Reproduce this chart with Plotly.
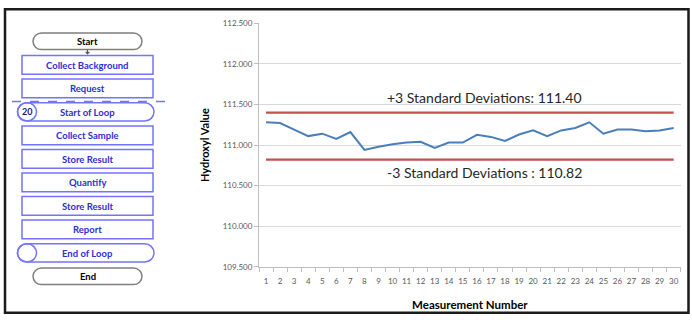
import plotly.graph_objects as go

# ---------------- data ----------------
measurement = list(range(1, 31))
hydroxyl = [111.28, 111.27, 111.19, 111.11, 111.14, 111.075, 111.16, 110.94, 110.98, 111.01,
            111.03, 111.04, 110.965, 111.03, 111.03, 111.125, 111.10, 111.05, 111.13, 111.18,
            111.11, 111.18, 111.21, 111.28, 111.14, 111.19, 111.19, 111.17, 111.18, 111.21]
upper_limit = 111.40
lower_limit = 110.82
y_ticks = [109.5, 110.0, 110.5, 111.0, 111.5, 112.0, 112.5]

flow_steps = ["Start", "Collect Background", "Request", "Start of Loop", "Collect Sample",
              "Store Result", "Quantify", "Store Result", "Report", "End of Loop", "End"]
flow_kinds = ["term", "box", "box", "loop", "box", "box", "box", "box", "box", "loop", "term"]
loop_count = "20"

# ---------------- layout constants ----------------
W, H = 692, 324
X0, X1 = 259, 680.7          # plot area (px)
Y0, Y1 = 18.7, 270.3
FONT = "Lato"


def px(x):
    return x / W


def py(y):
    return 1 - y / H


fig = go.Figure()

blue_line = "#4a7ebb"
red_line = "#c0504d"

fig.add_trace(go.Scatter(x=[measurement[0], measurement[-1]], y=[upper_limit, upper_limit],
                         mode="lines", line=dict(color=red_line, width=2.2), hoverinfo="skip"))
fig.add_trace(go.Scatter(x=[measurement[0], measurement[-1]], y=[lower_limit, lower_limit],
                         mode="lines", line=dict(color=red_line, width=2.2), hoverinfo="skip"))
fig.add_trace(go.Scatter(x=measurement, y=hydroxyl, mode="lines",
                         line=dict(color=blue_line, width=2)))

fig.update_layout(
    width=W, height=H, margin=dict(l=0, r=0, t=0, b=0),
    paper_bgcolor="white", plot_bgcolor="white", showlegend=False,
    font=dict(family=FONT),
    xaxis=dict(domain=[px(X0), px(X1)], range=[0.5, 30.5], tickmode="array",
               tickvals=measurement, ticktext=[str(m) for m in measurement],
               showgrid=False, zeroline=False, showline=True, linecolor="#bfbfbf", linewidth=1,
               ticks="", ticklabelstandoff=6, tickfont=dict(size=8, color="#595959", family=FONT),
               minor=dict(tick0=0.5, dtick=1, ticks="outside", ticklen=4, tickcolor="#bfbfbf"),
               title=dict(text="<b>Measurement Number</b>", font=dict(size=11.5, color="black"),
                          standoff=16),
               fixedrange=True),
    yaxis=dict(domain=[py(Y1), py(Y0)], range=[109.5, 112.5], tickmode="array",
               tickvals=y_ticks, tickformat=".3f", showgrid=True, gridcolor="#d9d9d9",
               zeroline=False, showline=True, linecolor="#bfbfbf", linewidth=1,
               ticks="outside", ticklen=4, tickcolor="#bfbfbf",
               tickfont=dict(size=8, color="#595959", family=FONT),
               title=dict(text="<b>Hydroxyl Value</b>", font=dict(size=11, color="black"),
                          standoff=10),
               fixedrange=True),
)

shapes = []
annotations = []

# outer frame
shapes.append(dict(type="rect", xref="paper", yref="paper", x0=px(5), x1=px(688.5),
                   y0=py(4.5), y1=py(317.5),
                   line=dict(color="#1a1a1a", width=2.5), fillcolor="rgba(0,0,0,0)"))

K = 0.5523


def pill(x0, x1, y0, y1):
    r = (y1 - y0) / 2
    ym = (y0 + y1) / 2
    k = K * r
    pts = [
        ("M", [(x0 + r, y0)]),
        ("L", [(x1 - r, y0)]),
        ("C", [(x1 - r + k, y0), (x1, ym - k), (x1, ym)]),
        ("C", [(x1, ym + k), (x1 - r + k, y1), (x1 - r, y1)]),
        ("L", [(x0 + r, y1)]),
        ("C", [(x0 + r - k, y1), (x0, ym + k), (x0, ym)]),
        ("C", [(x0, ym - k), (x0 + r - k, y0), (x0 + r, y0)]),
    ]
    out = []
    for cmd, ps in pts:
        out.append(cmd + " ".join(f"{px(a):.5f},{py(b):.5f}" for a, b in ps))
    return " ".join(out) + " Z"


def label_ann(x, y, text, size, color):
    return dict(xref="paper", yref="paper", x=px(x), y=py(y), text=text, showarrow=False,
                xanchor="center", yanchor="middle", font=dict(size=size, color=color, family=FONT))


box_border = "#7373ff"
box_text = "#2e2ed6"
step = 24.25
first_center = 37.5
for i, (label, kind) in enumerate(zip(flow_steps, flow_kinds)):
    cy = first_center + i * step
    if kind == "term":
        x0, x1, h = 33, 142, 17
        shapes.append(dict(type="path", xref="paper", yref="paper",
                           path=pill(x0, x1, cy - h / 2, cy + h / 2),
                           line=dict(color="#7f7f7f", width=1.5)))
        color = "black"
        cx = (x0 + x1) / 2
    elif kind == "box":
        x0, x1, h = 22, 153, 19.5
        shapes.append(dict(type="rect", xref="paper", yref="paper", x0=px(x0), x1=px(x1),
                           y0=py(cy - h / 2), y1=py(cy + h / 2),
                           line=dict(color=box_border, width=1.5)))
        color = box_text
        cx = (x0 + x1) / 2
    else:
        x0, x1, h = 17.5, 154, 19
        shapes.append(dict(type="path", xref="paper", yref="paper",
                           path=pill(x0, x1, cy - h / 2, cy + h / 2),
                           line=dict(color=box_border, width=1.5)))
        shapes.append(dict(type="circle", xref="paper", yref="paper", x0=px(x0), x1=px(x0 + h),
                           y0=py(cy - h / 2), y1=py(cy + h / 2),
                           line=dict(color=box_border, width=1.5)))
        if label == "Start of Loop":
            annotations.append(label_ann(x0 + h / 2, cy, f"<b>{loop_count}</b>", 9, "#1a1a66"))
        color = box_text
        cx = 87.5
    annotations.append(label_ann(cx, cy + 0.5, f"<b>{label}</b>", 9.5, color))

# small arrow under Start
shapes.append(dict(type="line", xref="paper", yref="paper", x0=px(87.5), x1=px(87.5),
                   y0=py(46), y1=py(50), line=dict(color="#555555", width=1)))
shapes.append(dict(type="path", xref="paper", yref="paper",
                   path=f"M{px(85.5)},{py(48.5)} L{px(89.5)},{py(48.5)} L{px(87.5)},{py(51)} Z",
                   fillcolor="#555555", line=dict(color="#555555", width=0.5)))

# dashed loop separator
shapes.append(dict(type="line", xref="paper", yref="paper", x0=px(12), x1=px(165),
                   y0=py(99.5), y1=py(99.5),
                   line=dict(color=box_border, width=1.5, dash="dash")))

# limit labels
annotations.append(label_ann(484, 95, f"+3 Standard Deviations: {upper_limit:.2f}", 14, "#262626"))
annotations.append(label_ann(484, 172.5, f"-3 Standard Deviations : {lower_limit:.2f}", 14, "#262626"))

fig.update_layout(shapes=shapes, annotations=annotations)
fig.write_html("out.html")
